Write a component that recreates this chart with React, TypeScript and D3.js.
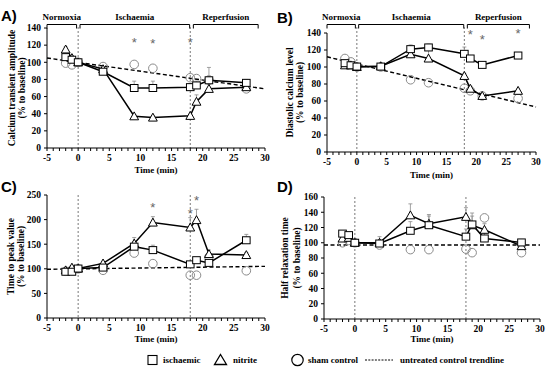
import React from 'react';
import * as d3 from 'd3';

// time points (min)
const times = [-2, -1, 0, 4, 9, 12, 18, 19, 21, 27];

// panel A - calcium transient amplitude
const ampIsch = [106, 103, 100, 89, 70, 70, 71, 73, 79, 76];
const ampIschErr = [3, 2, 0, 3, 8, 8, 4, 5, 5, 4];
const ampNit = [115, 105, 100, 92, 37, 35.5, 37.5, 54, 69, 71];
const ampNitErr = [3, 3, 0, 3, 2, 2, 2, 8, 25, 3];
const ampSham = [99, 97, 100, 95, 97.5, 93, 82, 81, 79, 69];
const ampTrend = [105, 69];
const ampStars = [[9, 124], [12, 123], [18, 124]];

// panel B - diastolic calcium level
const diaIsch = [104.5, 102, 100.5, 100.5, 121, 123, 115.5, 110, 102.5, 113.5];
const diaIschErr = [4, 3, 0, 2, 5, 4, 8, 3, 2, 2];
const diaNit = [102, 102, 100, 101, 115, 110, 89.5, 74.5, 66, 72];
const diaNitErr = [3, 3, 0, 2, 5, 10, 3, 3, 2, 2];
const diaSham = [110, 106, 100, 100, 85, 81.5, 75, 72, 66, 63];
const diaTrend = [112, 53];
const diaStars = [[19, 139], [21, 133], [27, 140]];

// panel C - time to peak value
const ttpIsch = [94, 94, 100.5, 102.5, 145, 138, 109, 117.5, 112, 158];
const ttpIschErr = [3, 3, 0, 3, 10, 10, 5, 5, 5, 12];
const ttpNit = [97, 102.5, 100.5, 111, 151.5, 194, 184, 199, 130, 128];
const ttpNitErr = [3, 4, 0, 4, 12, 12, 20, 22, 8, 5];
const ttpSham = [95, 98, 100, 97, 132, 110.5, 87, 87, 124, 96];
const ttpTrend = [99, 105];
const ttpStars = [[12, 225], [18, 214], [19, 240]];

// panel D - half relaxation time
const hrtIsch = [112, 110, 100, 99, 115.7, 123, 108, 124, 105.6, 100.4];
const hrtIschErr = [3, 3, 0, 3, 12, 12, 10, 15, 10, 4];
const hrtNit = [105.6, 106.5, 100, 100, 136, 125, 134, 123, 117, 95.6];
const hrtNitErr = [5, 4, 0, 8, 15, 12, 12, 12, 8, 5];
const hrtSham = [100, 103, 100, 97, 91, 91, 91.7, 87, 132.6, 87];
const hrtTrend = [97, 97];

const phases = [
  { name: 'Normoxia', from: -5, to: -0.25 },
  { name: 'Ischaemia', from: 0.3, to: 17.9 },
  { name: 'Reperfusion', from: 18.5, to: 28.9 },
];

const serif = '"Liberation Serif", "Times New Roman", serif';
const sans = '"Liberation Sans", Arial, sans-serif';
const grey = '#8a8a8a';

interface PanelProps {
  letter: string;
  lx: number;
  ly: number;
  left: number;
  right: number;
  top: number;
  bottom: number;
  yMax: number;
  yStep: number;
  label: string[];
  labelDx: number[];
  timeY: number;
  isch: number[];
  ischErr: number[];
  nit: number[];
  nitErr: number[];
  sham: number[];
  trend: number[];
  stars: number[][];
  brackets: boolean;
}

const Panel: React.FC<PanelProps> = (p) => {
  const x = d3.scaleLinear().domain([-5, 30]).range([p.left, p.right]);
  const y = d3.scaleLinear().domain([0, p.yMax]).range([p.bottom, p.top]);
  const yTicks = d3.range(0, p.yMax + 1, p.yStep);
  const minor = d3.range(-5, 31, 1);
  const line = d3.line<number>().x((_, i) => x(times[i])).y((d) => y(d));
  const vTop = p.brackets ? 27 : p.top;
  const cy = (p.top + p.bottom) / 2;

  const tri = (cx: number, cyy: number) => {
    const s = 4.4;
    return `M${cx},${cyy - s}L${cx + s},${cyy + s * 0.8}L${cx - s},${cyy + s * 0.8}Z`;
  };

  return (
    <g>
      <text x={p.lx} y={p.ly} fontFamily={sans} fontWeight="bold" fontSize={15}>{p.letter}</text>

      {p.brackets && phases.map((ph) => (
        <g key={ph.name}>
          <path d={`M${x(ph.from)},28.5V24.5H${x(ph.to)}V28.5`} fill="none" stroke="#000" strokeWidth={1} />
          <text x={(x(ph.from) + x(ph.to)) / 2} y={20} textAnchor="middle" fontFamily={serif}
            fontWeight="bold" fontSize={9}>{ph.name}</text>
        </g>
      ))}

      {[0, 18].map((t) => (
        <line key={t} x1={x(t)} x2={x(t)} y1={vTop} y2={p.bottom} stroke="#555" strokeWidth={0.8} strokeDasharray="2,2" />
      ))}

      {/* axes */}
      <line x1={p.left} x2={p.left} y1={p.top} y2={p.bottom} stroke="#000" strokeWidth={1} />
      <line x1={p.left} x2={p.right} y1={p.bottom} y2={p.bottom} stroke="#000" strokeWidth={1} />
      {yTicks.map((t) => (
        <g key={t}>
          <line x1={p.left - 3} x2={p.left} y1={y(t)} y2={y(t)} stroke="#000" />
          <text x={p.left - 6} y={y(t) + 3.3} textAnchor="end" fontFamily={serif} fontWeight="bold" fontSize={9.5}>{t}</text>
        </g>
      ))}
      {minor.map((t) => (
        <line key={t} x1={x(t)} x2={x(t)} y1={p.bottom} y2={p.bottom + 3} stroke="#000" />
      ))}
      {d3.range(-5, 31, 5).map((t) => (
        <text key={t} x={x(t)} y={p.bottom + 13} textAnchor="middle" fontFamily={serif} fontWeight="bold" fontSize={9.5}>{t}</text>
      ))}
      <text x={(p.left + p.right) / 2} y={p.timeY} textAnchor="middle" fontFamily={serif} fontWeight="bold" fontSize={9}>Time (min)</text>
      {p.label.map((s, i) => (
        <text key={s} transform={`translate(${p.left - p.labelDx[i]},${cy}) rotate(-90)`} textAnchor="middle"
          fontFamily={serif} fontWeight="bold" fontSize={9.5}>{s}</text>
      ))}

      {/* trendline */}
      <line x1={x(-5)} x2={x(30)} y1={y(p.trend[0])} y2={y(p.trend[1])} stroke="#000" strokeWidth={1.4} strokeDasharray="4,2.5" />

      {/* sham */}
      {p.sham.map((v, i) => (
        <circle key={'s' + i} cx={x(times[i])} cy={y(v)} r={4.3} fill="none" stroke={grey} strokeWidth={1} />
      ))}

      {/* error bars */}
      {[{ v: p.isch, e: p.ischErr }, { v: p.nit, e: p.nitErr }].map((s, k) => (
        <g key={'e' + k}>
          {s.v.map((v, i) => s.e[i] > 0 && (
            <g key={i}>
              <line x1={x(times[i])} x2={x(times[i])} y1={y(v)} y2={y(v + s.e[i])} stroke={grey} strokeWidth={0.8} />
              <line x1={x(times[i]) - 2} x2={x(times[i]) + 2} y1={y(v + s.e[i])} y2={y(v + s.e[i])} stroke={grey} strokeWidth={0.8} />
            </g>
          ))}
        </g>
      ))}

      <path d={line(p.nit) ?? ''} fill="none" stroke="#000" strokeWidth={1.5} />
      <path d={line(p.isch) ?? ''} fill="none" stroke="#000" strokeWidth={1.5} />

      {p.nit.map((v, i) => (
        <path key={'n' + i} d={tri(x(times[i]), y(v))} fill="#fff" stroke="#000" strokeWidth={1} />
      ))}
      {p.isch.map((v, i) => (
        <rect key={'q' + i} x={x(times[i]) - 3.8} y={y(v) - 3.5} width={7.6} height={7} fill="#fff" stroke="#000" strokeWidth={1} />
      ))}

      {p.stars.map((s, i) => (
        <text key={'a' + i} x={x(s[0])} y={y(s[1]) + 5} textAnchor="middle" fontFamily={sans} fontSize={13} fill="#666">*</text>
      ))}
    </g>
  );
};

export default function App() {
  return (
    <svg width={550} height={369} style={{ position: 'absolute', left: 0, top: 0, background: '#fff' }}>
      <Panel letter="A)" lx={1} ly={21} left={47} right={265} top={28} bottom={148} yMax={140} yStep={20}
        label={['Calcium transient amplitude', '(% to baseline)']} labelDx={[32, 22]} timeY={173}
        isch={ampIsch} ischErr={ampIschErr} nit={ampNit} nitErr={ampNitErr} sham={ampSham}
        trend={ampTrend} stars={ampStars} brackets />
      <Panel letter="B)" lx={277} ly={23} left={327} right={536} top={33} bottom={152} yMax={140} yStep={20}
        label={['Diastolic calcium level', '(% to baseline)']} labelDx={[34, 24]} timeY={178}
        isch={diaIsch} ischErr={diaIschErr} nit={diaNit} nitErr={diaNitErr} sham={diaSham}
        trend={diaTrend} stars={diaStars} brackets />
      <Panel letter="C)" lx={1} ly={192} left={47} right={265} top={195} bottom={318} yMax={250} yStep={50}
        label={['Time to peak value', '(% to baseline)']} labelDx={[33, 23]} timeY={342}
        isch={ttpIsch} ischErr={ttpIschErr} nit={ttpNit} nitErr={ttpNitErr} sham={ttpSham}
        trend={ttpTrend} stars={ttpStars} brackets={false} />
      <Panel letter="D)" lx={277} ly={192} left={324} right={540} top={197} bottom={319} yMax={160} yStep={20}
        label={['Half relaxation time', '(% to baseline)']} labelDx={[36, 24]} timeY={342}
        isch={hrtIsch} ischErr={hrtIschErr} nit={hrtNit} nitErr={hrtNitErr} sham={hrtSham}
        trend={hrtTrend} stars={[]} brackets={false} />

      {/* legend */}
      <g fontFamily={serif} fontWeight="bold" fontSize={9}>
        <rect x={148} y={355.5} width={9} height={9} fill="#fff" stroke="#000" strokeWidth={1.1} />
        <text x={163} y={363}>ischaemic</text>
        <path d="M220.5,354.5L226.5,364.5H214.5Z" fill="#fff" stroke="#000" strokeWidth={1.3} />
        <text x={233} y={363}>nitrite</text>
        <circle cx={297.5} cy={360} r={5.7} fill="none" stroke="#000" strokeWidth={1.2} />
        <text x={308} y={363}>sham control</text>
        <line x1={365} x2={393} y1={360} y2={360} stroke="#000" strokeWidth={1} strokeDasharray="2,1.3" />
        <text x={400} y={363}>untreated control trendline</text>
      </g>
    </svg>
  );
}
